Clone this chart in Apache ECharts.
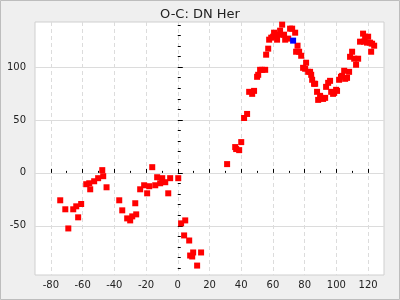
<!DOCTYPE html>
<html>
<head>
<meta charset="utf-8">
<script src="https://cdn.jsdelivr.net/npm/echarts@6/dist/echarts.min.js"></script>
<style>
html,body{margin:0;padding:0;background:#efefef;}
#c{width:400px;height:300px;}
</style>
</head>
<body>
<div id="c"></div>
<script>
// Data (E, O-C)
const redX = [-74.1,-70.9,-69.0,-65.9,-64.0,-62.8,-60.9,-57.7,-55.8,-55.2,-52.7,-50.2,-47.6,-47.0,-44.9,-36.9,-35.0,-31.9,-30.0,-28.7,-26.8,-26.2,-23.7,-21.2,-19.3,-18.0,-16.1,-14.2,-13.0,-11.1,-9.8,-7.9,-6.0,-4.8,0.3,2.1,4.7,4.0,7.2,7.8,9.1,9.7,12.2,14.7,31.1,36.2,36.8,38.7,40.0,41.8,43.7,45.0,46.9,48.1,50.0,50.7,51.9,53.2,55.1,55.7,57.0,57.6,58.9,60.1,60.7,61.4,62.6,63.9,64.5,65.8,67.0,67.7,69.6,70.8,72.1,74.0,75.5,74.6,76.5,77.8,80.9,79.0,80.3,82.2,83.4,84.1,84.7,85.9,86.6,87.8,88.5,89.7,90.4,91.6,92.9,93.5,94.8,96.0,96.7,97.9,98.6,99.8,100.4,101.7,102.9,103.6,104.9,105.5,106.7,108.0,108.6,109.9,111.2,112.4,113.7,116.8,118.1,120.0,114.9,117.4,119.3,121.2,122.5,123.8,121.9];
const redY = [-25.9,-34.4,-52.5,-34.4,-31.6,-42.0,-29.4,-10.7,-9.8,-15.5,-7.9,-5.0,2.6,-3.1,-13.6,-25.9,-35.4,-43.0,-44.9,-41.1,-28.7,-39.2,-15.5,-11.7,-19.3,-12.6,5.4,-11.7,-4.1,-9.8,-5.0,-8.8,-19.3,-5.0,-5.0,-47.7,-44.9,-59.1,-63.9,-78.1,-79.0,-75.2,-87.6,-75.2,8.3,24.4,22.5,21.5,29.1,51.9,55.7,76.6,74.7,77.5,90.8,92.7,97.4,97.4,97.4,111.7,117.4,125.9,127.8,128.7,132.5,129.7,125.9,130.6,134.4,140.1,130.6,125.9,126.9,136.3,136.3,132.5,120.2,114.5,114.5,110.7,104.1,99.3,98.4,95.5,95.5,92.7,88.0,84.2,84.2,76.6,69.0,72.8,70.9,69.9,70.9,81.3,85.1,87.0,76.6,74.7,75.6,78.5,77.5,88.0,90.8,91.7,96.5,88.9,89.8,95.5,109.7,114.5,107.9,102.2,107.9,131.6,128.7,128.7,124.0,124.0,123.1,123.1,122.1,120.2,114.5];
const blueX = [72.7];
const blueY = [125.0];
const xMajor = [-80,-60,-40,-20,0,20,40,60,80,100,120];
const xMinor = [-70,-50,-30,-10,10,30,50,70,90,110];
const yMajor = [-50,0,50,100];
const yMinor = [-90,-80,-70,-60,-40,-30,-20,-10,10,20,30,40,60,70,80,90,110,120,130,140];
const titleText = 'O-C: DN Her';

const zip = (xs, ys) => xs.map((x, i) => [x, ys[i]]);
const FONT = 'DejaVu Sans';
const chart = echarts.init(document.getElementById('c'), null, {renderer: 'canvas'});
const xBase = {type: 'value', min: -90, max: 130, gridIndex: 0, position: 'bottom'};
const yBase = {type: 'value', min: -96.5, max: 142.6, gridIndex: 0, position: 'left'};
chart.setOption({
  animation: false,
  backgroundColor: '#efefef',
  title: {text: titleText, left: 'center', top: 3,
    textStyle: {fontFamily: FONT, fontSize: 13, fontWeight: 'normal', color: '#222'}},
  graphic: [{type: 'rect', shape: {x: 0.5, y: 0.5, width: 399, height: 299},
    style: {fill: 'none', stroke: '#bdbdbd', lineWidth: 1}, silent: true, z: 100}],
  grid: {left: 35, right: 16, top: 22, bottom: 25, show: true, backgroundColor: '#fff',
    borderColor: '#cfcfcf', borderWidth: 1},
  xAxis: [
    Object.assign({}, xBase, {
      axisLine: {show: false},
      axisTick: {show: true, inside: true, length: 4, customValues: xMajor, lineStyle: {color: '#000'}},
      axisLabel: {show: true, customValues: xMajor, fontFamily: FONT, fontSize: 10, color: '#222', margin: 5},
      splitLine: {show: true, lineStyle: {color: '#dcdcdc', type: [4, 3], width: 1}}
    }),
    Object.assign({}, xBase, {
      axisLine: {show: false},
      axisTick: {show: true, inside: true, length: 2, customValues: xMinor, lineStyle: {color: '#000'}},
      axisLabel: {show: false},
      splitLine: {show: false}
    })
  ],
  yAxis: [
    Object.assign({}, yBase, {
      axisLine: {show: false},
      axisTick: {show: true, inside: true, length: 5, customValues: yMajor, lineStyle: {color: '#000'}},
      axisLabel: {show: true, customValues: yMajor, fontFamily: FONT, fontSize: 10, color: '#222', margin: 9},
      splitLine: {show: true, lineStyle: {color: '#dcdcdc', type: 'solid', width: 1}}
    }),
    Object.assign({}, yBase, {
      axisLine: {show: false},
      axisTick: {show: true, inside: true, length: 3, customValues: yMinor, lineStyle: {color: '#000'}},
      axisLabel: {show: false},
      splitLine: {show: false}
    })
  ],
  series: [
    {type: 'scatter', xAxisIndex: 0, yAxisIndex: 0, symbol: 'rect', symbolSize: 6,
     itemStyle: {color: '#ff0000', opacity: 1}, data: zip(redX, redY)},
    {type: 'scatter', xAxisIndex: 0, yAxisIndex: 0, symbol: 'rect', symbolSize: 6,
     itemStyle: {color: '#0000ff', opacity: 1}, data: zip(blueX, blueY)}
  ]
});
</script>
</body>
</html>
